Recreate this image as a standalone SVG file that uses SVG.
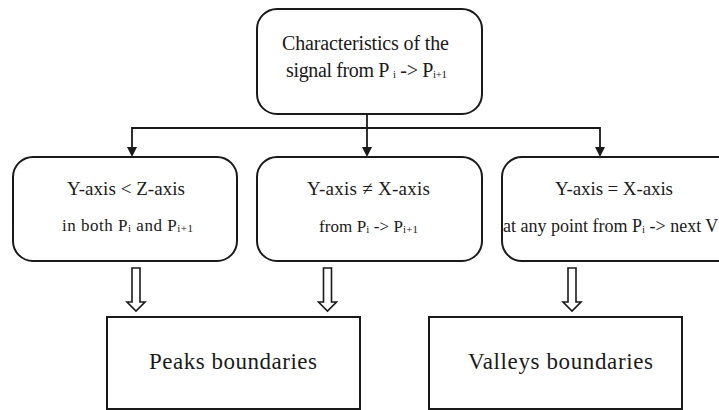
<svg xmlns="http://www.w3.org/2000/svg" width="719" height="410" viewBox="0 0 719 410">
<style>
.box{fill:#fff;stroke:#1a1a1a;stroke-width:2}
.t{font-family:"Liberation Serif","Times New Roman",serif;fill:#1a1a1a}
.sub{font-size:11px}
.con{fill:none;stroke:#1a1a1a;stroke-width:1.8}
.hollow{fill:#fff;stroke:#1a1a1a;stroke-width:1.6;stroke-linejoin:miter}
.head{fill:#1a1a1a}
</style>
<rect width="719" height="410" fill="#fff"/>
<g id="connectors">
<polyline class="con" points="132,150 132,128 600,128 600,150"/>
<line class="con" x1="367" y1="114" x2="367" y2="150"/>
<path class="head" d="M127,147 L137,147 L132,157 Z"/>
<path class="head" d="M362,147 L372,147 L367,157 Z"/>
<path class="head" d="M595,147 L605,147 L600,157 Z"/>
<path class="hollow" d="M132,268 H140 V302 H145 L136,311 L127,302 H132 Z"/>
<path class="hollow" d="M323.5,268 H331.5 V302 H336.5 L327.5,311 L318.5,302 H323.5 Z"/>
<path class="hollow" d="M568,268 H576 V302 H581 L572,311 L563,302 H568 Z"/>
</g>
<g id="top">
<rect class="box" x="257" y="9" width="225" height="105" rx="20"/>
<text class="t" x="365.5" y="50" font-size="20" text-anchor="middle" textLength="167">Characteristics of the</text>
<text class="t" x="286" y="77" font-size="20" textLength="161">signal from P <tspan class="sub" dy="1">i</tspan><tspan dy="-1"> -&gt; P</tspan><tspan class="sub" dy="1">i+1</tspan></text>
</g>
<g id="cond1">
<rect class="box" x="13" y="157" width="224" height="104" rx="20"/>
<text class="t" x="67" y="195" font-size="19" textLength="118">Y-axis &lt; Z-axis</text>
<text class="t" x="62" y="231" font-size="17" textLength="131">in both P<tspan class="sub" dy="1">i</tspan><tspan dy="-1"> and P</tspan><tspan class="sub" dy="1">i+1</tspan></text>
</g>
<g id="cond2">
<rect class="box" x="257" y="157" width="225" height="104" rx="20"/>
<text class="t" x="307" y="195" font-size="19" textLength="123">Y-axis ≠  X-axis</text>
<text class="t" x="319" y="232" font-size="17" textLength="99">from P<tspan class="sub" dy="1">i</tspan><tspan dy="-1"> -&gt; P</tspan><tspan class="sub" dy="1">i+1</tspan></text>
</g>
<g id="cond3">
<rect class="box" x="502" y="157" width="240" height="104" rx="20"/>
<text class="t" x="555" y="195" font-size="19" textLength="118">Y-axis = X-axis</text>
<text class="t" x="503" y="232" font-size="18">at any point from P<tspan class="sub" dy="1">i</tspan><tspan dy="-1"> -&gt; next V</tspan></text>
</g>
<g id="peaks">
<rect class="box" x="107" y="317" width="253" height="92"/>
<text class="t" x="149" y="369" font-size="23" textLength="168">Peaks boundaries</text>
</g>
<g id="valleys">
<rect class="box" x="429" y="317" width="253" height="92"/>
<text class="t" x="468" y="369" font-size="23" textLength="185">Valleys  boundaries</text>
</g>
</svg>
